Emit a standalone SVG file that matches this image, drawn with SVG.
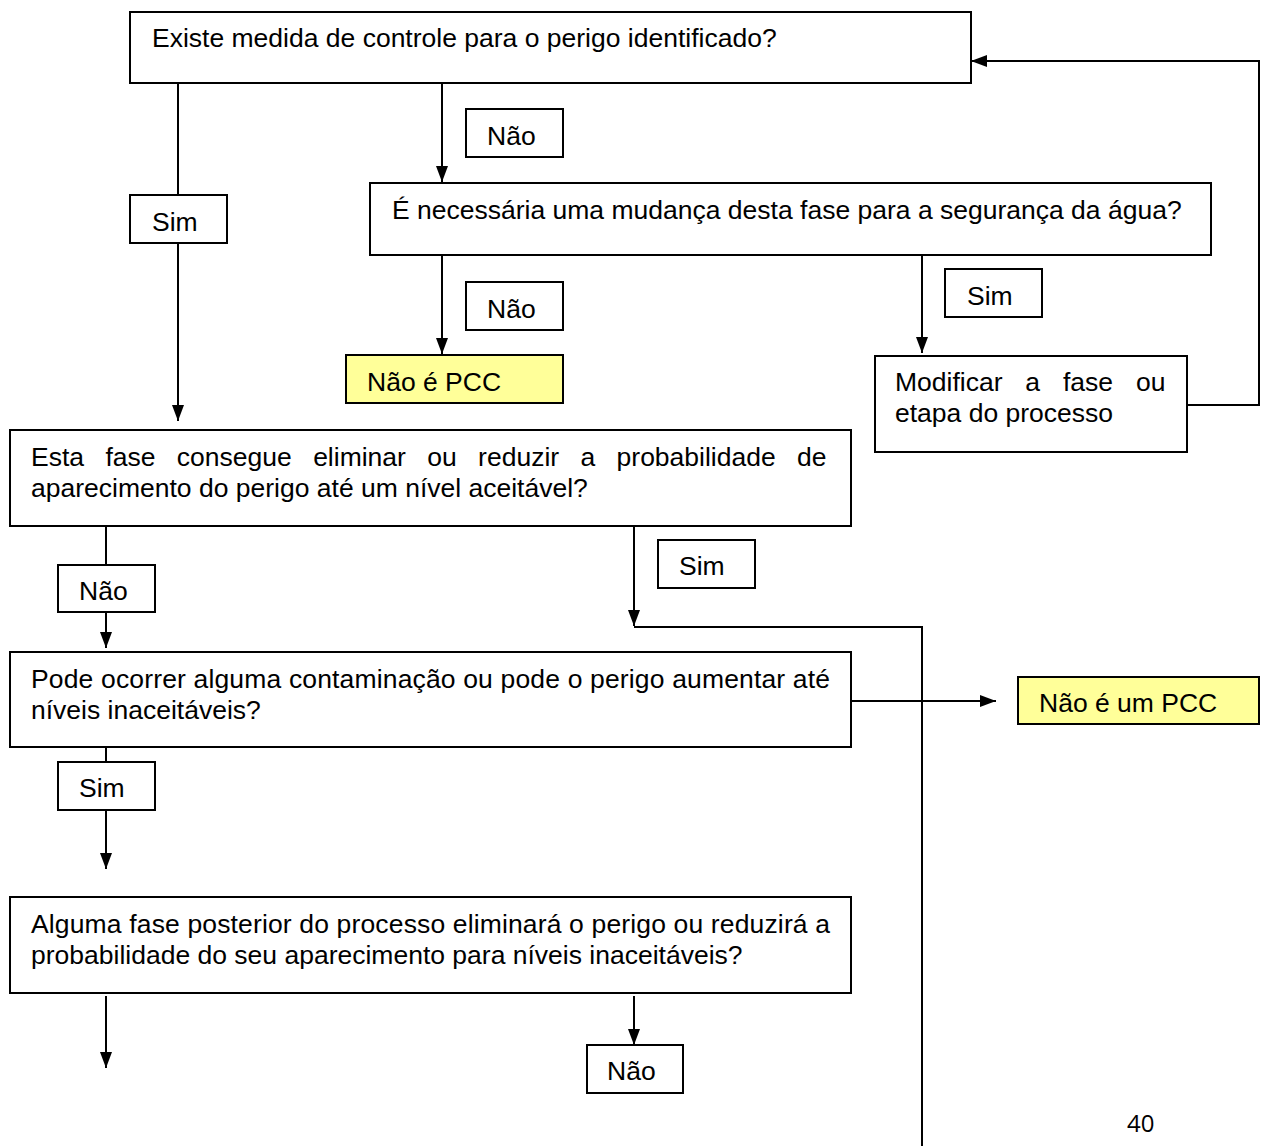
<svg xmlns="http://www.w3.org/2000/svg" width="1261" height="1146" viewBox="0 0 1261 1146">
<defs>
<marker id="ah" markerUnits="userSpaceOnUse" markerWidth="16" markerHeight="12" refX="16" refY="6" viewBox="0 0 16 12" orient="auto">
<path d="M0,0 L16,6 L0,12 z" fill="#000"/>
</marker>
<style>
.box{fill:#fff;stroke:#000;stroke-width:2}
.yel{fill:#ffff99;stroke:#000;stroke-width:2}
.t{font-family:"Liberation Sans",Arial,sans-serif;font-size:26.5px;fill:#000}
.ln{fill:none;stroke:#000;stroke-width:2}
.ar{fill:none;stroke:#000;stroke-width:2;marker-end:url(#ah)}
</style>
</defs>
<rect width="1261" height="1146" fill="#fff"/>
<g id="connectors">
<line class="ar" x1="178" y1="83" x2="178" y2="421"/>
<line class="ar" x1="442" y1="83" x2="442" y2="182"/>
<line class="ar" x1="442" y1="255" x2="442" y2="354"/>
<line class="ar" x1="922" y1="255" x2="922" y2="353"/>
<polyline class="ar" points="1187,405 1259,405 1259,61 971,61"/>
<line class="ar" x1="106" y1="526" x2="106" y2="648"/>
<line class="ar" x1="634" y1="526" x2="634" y2="626"/>
<polyline class="ln" points="634,627 922,627 922,1146"/>
<line class="ar" x1="851" y1="701" x2="996" y2="701"/>
<line class="ar" x1="106" y1="747" x2="106" y2="869"/>
<line class="ar" x1="106" y1="996" x2="106" y2="1068"/>
<line class="ar" x1="634" y1="996" x2="634" y2="1045"/>
</g>
<g id="n1"><rect class="box" x="130" y="12" width="841" height="71"/><text class="t" x="152" y="47">Existe medida de controle para o perigo identificado?</text></g>
<g id="l1"><rect class="box" x="130" y="195" width="97" height="48"/><text class="t" x="152" y="231">Sim</text></g>
<g id="l2"><rect class="box" x="466" y="109" width="97" height="48"/><text class="t" x="487" y="145">Não</text></g>
<g id="n2"><rect class="box" x="370" y="183" width="841" height="72"/><text class="t" x="392" y="219">É necessária uma mudança desta fase para a segurança da água?</text></g>
<g id="l3"><rect class="box" x="466" y="282" width="97" height="48"/><text class="t" x="487" y="318">Não</text></g>
<g id="n3"><rect class="yel" x="346" y="355" width="217" height="48"/><text class="t" x="367" y="391">Não é PCC</text></g>
<g id="l4"><rect class="box" x="945" y="269" width="97" height="48"/><text class="t" x="967" y="305">Sim</text></g>
<g id="n4"><rect class="box" x="875" y="356" width="312" height="96"/><text class="t" x="895" y="391" word-spacing="15.5">Modificar a fase ou</text><text class="t" x="895" y="422">etapa do processo</text></g>
<g id="n5"><rect class="box" x="10" y="430" width="841" height="96"/><text class="t" x="31" y="466" word-spacing="14">Esta fase consegue eliminar ou reduzir a probabilidade de</text><text class="t" x="31" y="497">aparecimento do perigo até um nível aceitável?</text></g>
<g id="l5"><rect class="box" x="58" y="565" width="97" height="47"/><text class="t" x="79" y="600">Não</text></g>
<g id="l6"><rect class="box" x="658" y="540" width="97" height="48"/><text class="t" x="679" y="575">Sim</text></g>
<g id="n6"><rect class="box" x="10" y="652" width="841" height="95"/><text class="t" x="31" y="688" textLength="799" lengthAdjust="spacing">Pode ocorrer alguma contaminação ou pode o perigo aumentar até</text><text class="t" x="31" y="719">níveis inaceitáveis?</text></g>
<g id="n7"><rect class="yel" x="1018" y="677" width="241" height="47"/><text class="t" x="1039" y="712">Não é um PCC</text></g>
<g id="l7"><rect class="box" x="58" y="762" width="97" height="48"/><text class="t" x="79" y="797">Sim</text></g>
<g id="n8"><rect class="box" x="10" y="897" width="841" height="96"/><text class="t" x="31" y="933" textLength="799" lengthAdjust="spacing">Alguma fase posterior do processo eliminará o perigo ou reduzirá a</text><text class="t" x="31" y="964">probabilidade do seu aparecimento para níveis inaceitáveis?</text></g>
<g id="l8"><rect class="box" x="587" y="1045" width="96" height="48"/><text class="t" x="607" y="1080">Não</text></g>
<text x="1127" y="1132" style="font-family:'Open Sans','Liberation Sans',sans-serif;font-size:24px;fill:#000">40</text>
</svg>
